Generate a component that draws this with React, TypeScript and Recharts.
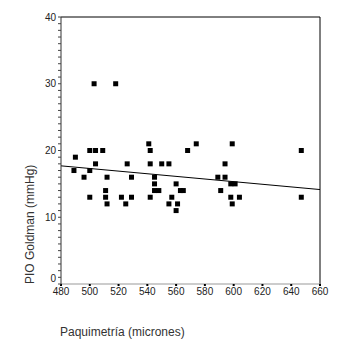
import { ScatterChart, Scatter, XAxis, YAxis, ReferenceLine, Label } from "recharts";

// Paquimetría (micrones) and PIO Goldman (mmHg), one entry per eye
const paquimetria = [
  489, 490, 496, 500, 500, 500, 503, 504, 504, 509, 511, 511, 512, 512, 518, 522, 525,
  526, 529, 529, 541, 542, 542, 542, 545, 545, 545, 548, 550, 555, 555, 557, 560, 560,
  561, 563, 565, 568, 574, 589, 591, 594, 594, 598, 598, 599, 599, 601, 604, 647, 647,
];
const pio = [
  17, 19, 16, 20, 17, 13, 30, 20, 18, 20, 14, 13, 16, 12, 30, 13, 12,
  18, 16, 13, 21, 20, 18, 13, 16, 15, 14, 14, 18, 18, 12, 13, 15, 11,
  12, 14, 14, 20, 21, 16, 14, 18, 16, 15, 13, 21, 12, 15, 13, 20, 13,
];

// linear fit line endpoints
const fitX = [480, 660];
const fitY = [17.7, 14.15];

const xTicks = [480, 500, 520, 540, 560, 580, 600, 620, 640, 660];
const yTicks = Array.from({ length: 41 }, (_, i) => i);

const points = paquimetria.map((x, i) => ({ x, y: pio[i] }));

const font = "'Liberation Sans', Arial, sans-serif";

const SquareDot = (props: any) => (
  <rect x={props.cx - 2.5} y={props.cy - 2.5} width={5} height={5} fill="#000" />
);

const YTick = (props: any) => {
  const { x, y, payload } = props;
  if (payload.value % 10 !== 0) return null;
  const dy = payload.value === 0 ? -6 : 0;
  return (
    <text x={x} y={y + dy} dy="0.35em" textAnchor="end" fontSize={10} fill="#222" fontFamily={font}>
      {payload.value}
    </text>
  );
};

export default function App() {
  return (
    <div style={{ position: "absolute", left: 0, top: 0, background: "#fff" }}>
      <ScatterChart width={338} height={345} margin={{ top: 17, right: 18, bottom: 31, left: 0 }}>
        <XAxis
          type="number"
          dataKey="x"
          domain={[480, 660]}
          ticks={xTicks}
          interval={0}
          tickSize={2}
          tickMargin={2}
          height={30}
          axisLine={{ stroke: "#999" }}
          tickLine={{ stroke: "#000", strokeWidth: 2 }}
          tick={{ fontSize: 10, fill: "#222", fontFamily: font }}
        >
          <Label
            content={(p: any) => (
              <text x={p.viewBox.x - 1} y={p.viewBox.y + 52} fontSize={12} fill="#333" fontFamily={font}>
                Paquimetría (micrones)
              </text>
            )}
          />
        </XAxis>
        <YAxis
          type="number"
          dataKey="y"
          domain={[0, 40]}
          ticks={yTicks}
          interval={0}
          width={61}
          tickSize={3}
          tickMargin={2}
          axisLine={{ stroke: "#333" }}
          tickLine={{ stroke: "#444" }}
          tick={<YTick />}
        >
          <Label
            content={(p: any) => {
              const tx = 33.5;
              const ty = p.viewBox.y + p.viewBox.height;
              return (
                <text x={tx} y={ty} transform={`rotate(-90, ${tx}, ${ty})`} fontSize={12} fill="#333" fontFamily={font}>
                  PIO Goldman (mmHg)
                </text>
              );
            }}
          />
        </YAxis>
        <ReferenceLine y={40} stroke="#000" />
        <ReferenceLine x={660} stroke="#000" />
        <ReferenceLine
          segment={[
            { x: fitX[0], y: fitY[0] },
            { x: fitX[1], y: fitY[1] },
          ]}
          stroke="#000"
          strokeWidth={1}
        />
        <Scatter data={points} shape={<SquareDot />} isAnimationActive={false} />
      </ScatterChart>
    </div>
  );
}
